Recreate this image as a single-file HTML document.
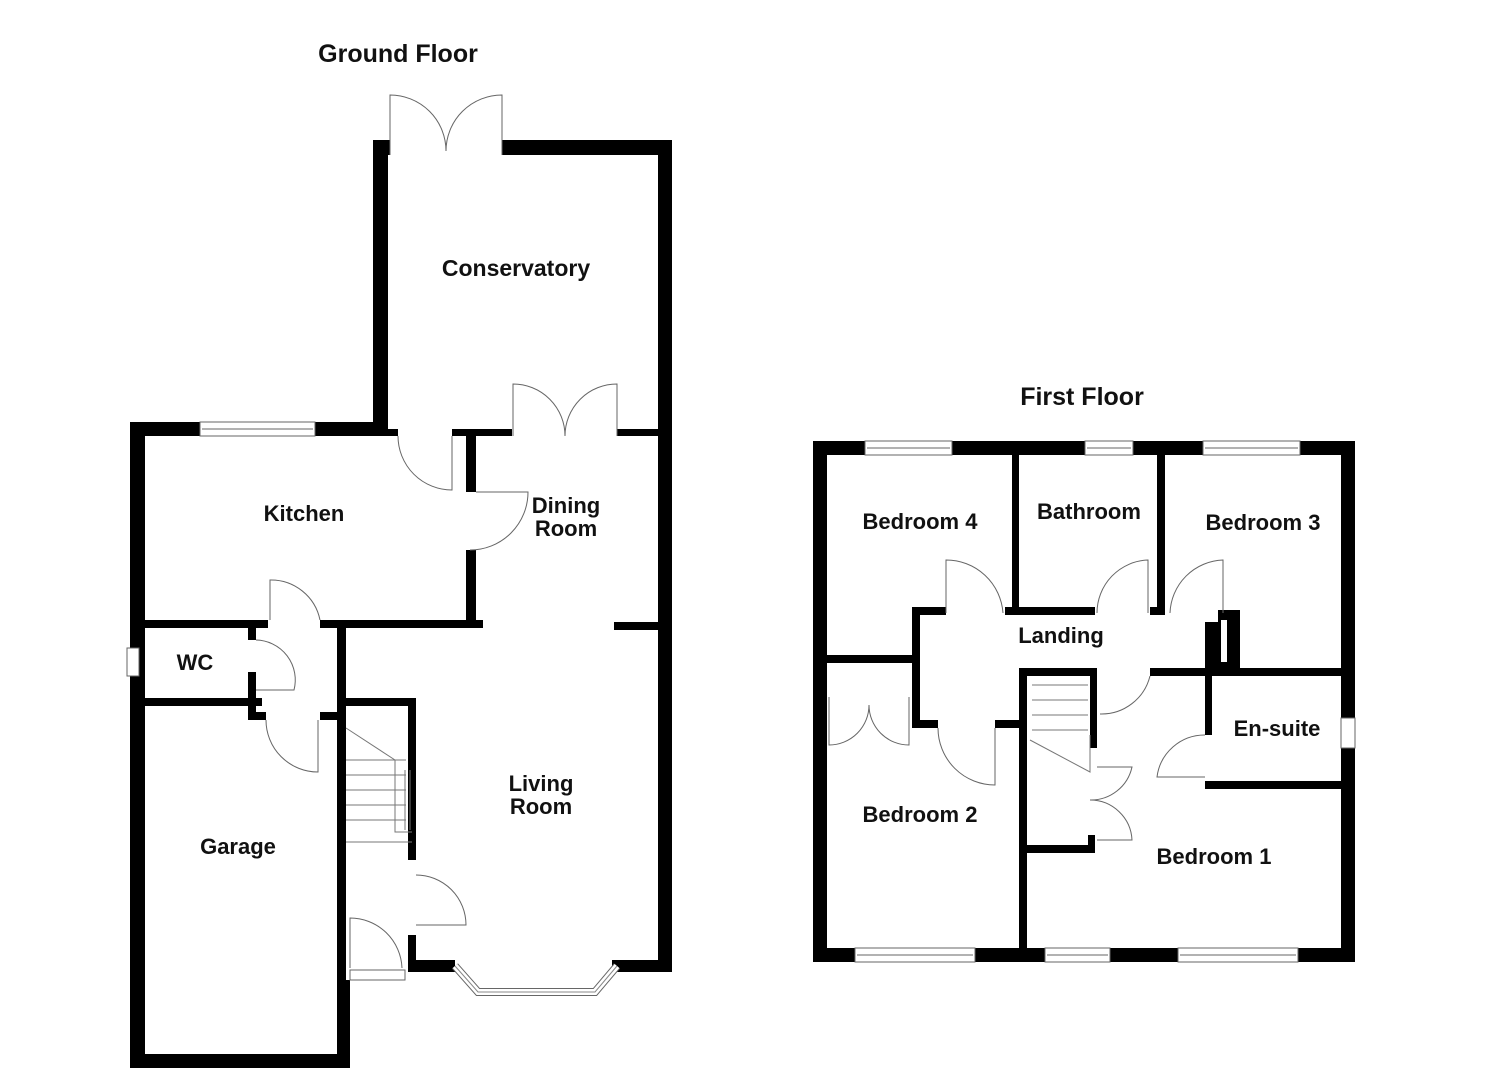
<!DOCTYPE html>
<html><head><meta charset="utf-8"><style>
html,body{margin:0;padding:0;background:#fff;}
svg{display:block;}
text{font-family:"Liberation Sans",Arial,sans-serif;font-weight:bold;fill:#111;}
</style></head><body>
<svg width="1485" height="1080" viewBox="0 0 1485 1080" xmlns="http://www.w3.org/2000/svg">
<g fill="#000">
<rect x="373" y="140" width="15" height="296"/>
<rect x="373" y="140" width="17" height="15"/>
<rect x="502" y="140" width="170" height="15"/>
<rect x="658" y="140" width="14" height="832"/>
<rect x="130" y="422" width="258" height="14"/>
<rect x="130" y="422" width="15" height="646"/>
<rect x="130" y="1054" width="220" height="14"/>
<rect x="337" y="628" width="9" height="440"/>
<rect x="337" y="980" width="13" height="88"/>
<rect x="388" y="429" width="10" height="7"/>
<rect x="452" y="429" width="60" height="7"/>
<rect x="617" y="429" width="41" height="7"/>
<rect x="466" y="429" width="10" height="63"/>
<rect x="466" y="550" width="10" height="78"/>
<rect x="145" y="620" width="123" height="8"/>
<rect x="320" y="620" width="163" height="8"/>
<rect x="614" y="622" width="44" height="8"/>
<rect x="248" y="628" width="8" height="12"/>
<rect x="145" y="698" width="117" height="8"/>
<rect x="248" y="672" width="8" height="48"/>
<rect x="248" y="712" width="18" height="8"/>
<rect x="320" y="712" width="20" height="8"/>
<rect x="337" y="698" width="79" height="8"/>
<rect x="408" y="698" width="8" height="162"/>
<rect x="408" y="935" width="8" height="37"/>
<rect x="408" y="960" width="47" height="12"/>
<rect x="612" y="960" width="60" height="12"/>
<rect x="813" y="441" width="542" height="14"/>
<rect x="813" y="441" width="14" height="521"/>
<rect x="1341" y="441" width="14" height="521"/>
<rect x="813" y="948" width="542" height="14"/>
<rect x="1012" y="455" width="7" height="160"/>
<rect x="1005" y="607" width="90" height="8"/>
<rect x="1157" y="455" width="8" height="160"/>
<rect x="1150" y="607" width="15" height="8"/>
<rect x="912" y="607" width="34" height="8"/>
<rect x="912" y="607" width="8" height="121"/>
<rect x="912" y="720" width="26" height="8"/>
<rect x="995" y="720" width="25" height="8"/>
<rect x="827" y="655" width="88" height="8"/>
<rect x="1019" y="668" width="8" height="280"/>
<rect x="1019" y="668" width="78" height="8"/>
<rect x="1090" y="668" width="7" height="80"/>
<rect x="1150" y="668" width="191" height="8"/>
<rect x="1205" y="622" width="13" height="46"/>
<rect x="1218" y="610" width="22" height="58"/>
<rect x="1205" y="676" width="7" height="59"/>
<rect x="1205" y="781" width="136" height="8"/>
<rect x="1027" y="845" width="68" height="8"/>
<rect x="1088" y="835" width="7" height="18"/>
</g>
<rect x="1221" y="620" width="6" height="42" fill="#fff"/>
<g fill="#fff" stroke="#666" stroke-width="1">
<rect x="200" y="422" width="115" height="14"/><line x1="202" y1="429" x2="313" y2="429"/>
<rect x="127" y="648" width="12" height="28"/>
<rect x="865" y="441" width="87" height="14"/><line x1="867" y1="448" x2="950" y2="448"/>
<rect x="1085" y="441" width="48" height="14"/><line x1="1087" y1="448" x2="1131" y2="448"/>
<rect x="1203" y="441" width="97" height="14"/><line x1="1205" y1="448" x2="1298" y2="448"/>
<rect x="855" y="948" width="120" height="14"/><line x1="857" y1="955" x2="973" y2="955"/>
<rect x="1045" y="948" width="65" height="14"/><line x1="1047" y1="955" x2="1108" y2="955"/>
<rect x="1178" y="948" width="120" height="14"/><line x1="1180" y1="955" x2="1296" y2="955"/>
<rect x="1341" y="718" width="14" height="30"/>
<rect x="350" y="970" width="55" height="10"/>
<polyline points="455,966 478,992 595,992 617,966" fill="none" stroke-width="8" stroke="#666"/>
<polyline points="455,966 478,992 595,992 617,966" fill="none" stroke-width="6" stroke="#fff"/>
<polyline points="455,966 478,992 595,992 617,966" fill="none" stroke-width="1" stroke="#888"/>
</g>
<g fill="none" stroke="#666" stroke-width="1">
<path d="M390 155 V95 A56 56 0 0 1 446 151"/>
<path d="M502 155 V95 A56 56 0 0 0 446 151"/>
<path d="M513 436 V384 A52 52 0 0 1 565 436"/>
<path d="M617 436 V384 A52 52 0 0 0 565 436"/>
<path d="M398 436 A54 54 0 0 0 452 490 V436"/>
<path d="M476 492 H528 A58 58 0 0 1 470 550"/>
<path d="M270 620 V580 A50 50 0 0 1 320 620"/>
<path d="M256 640 A40 40 0 0 1 294 690 H256"/>
<path d="M266 720 A52 52 0 0 0 318 772 V720"/>
<path d="M416 875 A50 50 0 0 1 466 925 H416"/>
<path d="M350 968 V918 A52 52 0 0 1 402 968"/>
<path d="M946 613 V560 A57 57 0 0 1 1003 613"/>
<path d="M1148 613 V560 A53 53 0 0 0 1097 613"/>
<path d="M1170 613 A55 55 0 0 1 1223 560 V613"/>
<path d="M1150 676 A50 50 0 0 1 1100 714"/>
<path d="M938 728 A57 57 0 0 0 995 785 V728"/>
<path d="M829 697 V745 A40 40 0 0 0 869 705 A40 40 0 0 0 909 745 V697"/>
<path d="M1205 735 A48 48 0 0 0 1157 777 H1205"/>
<path d="M1097 767 H1132 A42 42 0 0 1 1090 800 A42 42 0 0 1 1132 840 H1097"/>
</g>
<g fill="none" stroke="#777" stroke-width="1">
<path d="M346 728 L395 760 L395 832 L412 832 M346 760 H406 M346 775 H406 M346 790 H406 M346 805 H406 M346 820 H406 M346 842 H412"/>
<path d="M405 770 V830 M410 770 V830"/>
<path d="M1032 685 H1088 M1032 700 H1088 M1032 715 H1088 M1032 730 H1088 M1030 740 L1090 772 V735"/>
</g>
<g text-anchor="middle" font-size="22">
<text x="398" y="62" font-size="25">Ground Floor</text>
<text x="1082" y="405" font-size="25">First Floor</text>
<text x="516" y="276" font-size="23">Conservatory</text>
<text x="304" y="521">Kitchen</text>
<text x="566" y="513">Dining</text>
<text x="566" y="536">Room</text>
<text x="195" y="670">WC</text>
<text x="541" y="791">Living</text>
<text x="541" y="814">Room</text>
<text x="238" y="854">Garage</text>
<text x="920" y="529">Bedroom 4</text>
<text x="1089" y="519">Bathroom</text>
<text x="1263" y="530">Bedroom 3</text>
<text x="1061" y="643">Landing</text>
<text x="1277" y="736">En-suite</text>
<text x="920" y="822">Bedroom 2</text>
<text x="1214" y="864">Bedroom 1</text>
</g>
</svg>
</body></html>
